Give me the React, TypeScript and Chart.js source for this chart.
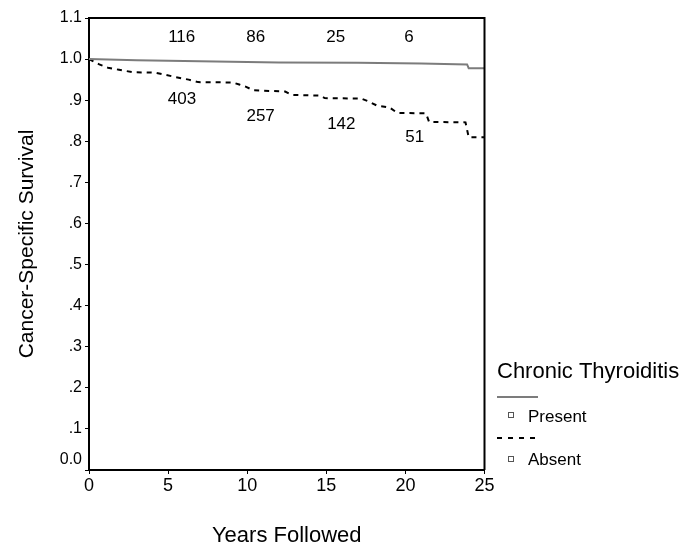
import React, { useEffect, useRef } from "react";
import { Chart, registerables } from "chart.js";

Chart.register(...registerables);

// ---- data ----
const presentYears = [0, 3, 8, 12, 17, 21, 23.9, 24.0, 25];
const presentSurvival = [1.0, 0.997, 0.994, 0.992, 0.991, 0.989, 0.987, 0.978, 0.978];

const absentYears = [0, 0.65, 1.2, 1.9, 2.8, 4.2, 4.7, 5.5, 6.3, 6.9, 9.1, 9.5, 9.9, 10.4, 12.4, 12.8, 14.6, 14.9, 17.2, 17.6, 18.2, 19.0, 19.5, 21.3, 21.5, 23.8, 24.0, 25];
const absentSurvival = [1.0, 0.987, 0.979, 0.974, 0.968, 0.967, 0.963, 0.956, 0.95, 0.944, 0.943, 0.938, 0.933, 0.924, 0.921, 0.913, 0.911, 0.905, 0.904, 0.898, 0.887, 0.882, 0.869, 0.868, 0.847, 0.846, 0.81, 0.81];

// numbers at risk
const atRiskPresent = [116, 86, 25, 6];
const atRiskPresentX = [5.86, 10.54, 15.59, 20.23];
const atRiskPresentY = [1.053, 1.053, 1.053, 1.053];
const atRiskAbsent = [403, 257, 142, 51];
const atRiskAbsentX = [5.88, 10.85, 15.95, 20.59];
const atRiskAbsentY = [0.902, 0.861, 0.842, 0.81];

const xTickValues = [0, 5, 10, 15, 20, 25];
const yTickValues = [0, 0.1, 0.2, 0.3, 0.4, 0.5, 0.6, 0.7, 0.8, 0.9, 1.0, 1.1];

const legendTitle = "Chronic Thyroiditis";
const seriesNames = ["Present", "Absent"];
const xTitle = "Years Followed";
const yTitle = "Cancer-Specific Survival";

const FONT = "'Liberation Sans', Arial, sans-serif";
const PRESENT_COLOR = "#7c7c7c";

function fmtY(v: number): string {
  if (Math.abs(v) < 1e-9) return "";
  if (v >= 0.999) return v.toFixed(1);
  return "." + Math.round(v * 10);
}

export default function App() {
  const ref = useRef<HTMLCanvasElement | null>(null);

  useEffect(() => {
    const canvas = ref.current;
    if (!canvas) return;

    const overlay = {
      id: "overlay",
      afterDraw(chart: any) {
        const ctx = chart.ctx;
        const { left, right, top, bottom } = chart.chartArea;
        const xs = chart.scales.x;
        const ys = chart.scales.y;
        ctx.save();
        // frame top and right
        ctx.strokeStyle = "#000";
        ctx.lineWidth = 2;
        ctx.beginPath();
        ctx.moveTo(left, top);
        ctx.lineTo(right, top);
        ctx.lineTo(right, bottom);
        ctx.stroke();

        // "0.0" label (slightly raised as in reference)
        ctx.fillStyle = "#000";
        ctx.font = `16px ${FONT}`;
        ctx.textAlign = "right";
        ctx.textBaseline = "middle";
        ctx.fillText("0.0", left - 7, ys.getPixelForValue(0) - 10);

        // numbers at risk
        ctx.font = `17px ${FONT}`;
        ctx.textAlign = "center";
        ctx.textBaseline = "middle";
        atRiskPresent.forEach((n, i) => {
          ctx.fillText(String(n), xs.getPixelForValue(atRiskPresentX[i]), ys.getPixelForValue(atRiskPresentY[i]));
        });
        atRiskAbsent.forEach((n, i) => {
          ctx.fillText(String(n), xs.getPixelForValue(atRiskAbsentX[i]), ys.getPixelForValue(atRiskAbsentY[i]));
        });

        // legend
        ctx.textAlign = "left";
        ctx.textBaseline = "alphabetic";
        ctx.font = `22px ${FONT}`;
        ctx.fillText(legendTitle, 497, 378);

        ctx.strokeStyle = PRESENT_COLOR;
        ctx.lineWidth = 2;
        ctx.beginPath();
        ctx.moveTo(497, 397);
        ctx.lineTo(538, 397);
        ctx.stroke();

        ctx.strokeStyle = "#000";
        ctx.setLineDash([5, 6]);
        ctx.beginPath();
        ctx.moveTo(497, 438);
        ctx.lineTo(538, 438);
        ctx.stroke();
        ctx.setLineDash([]);

        ctx.strokeStyle = "#555";
        ctx.lineWidth = 1;
        ctx.strokeRect(508.5, 412.5, 5, 5);
        ctx.strokeRect(508.5, 456.5, 5, 5);

        ctx.font = `17px ${FONT}`;
        ctx.fillStyle = "#000";
        ctx.fillText(seriesNames[0], 528, 422);
        ctx.fillText(seriesNames[1], 528, 465);
        ctx.restore();
      },
    };

    const chart = new Chart(canvas, {
      type: "line",
      data: {
        datasets: [
          {
            label: seriesNames[0],
            data: presentYears.map((x, i) => ({ x, y: presentSurvival[i] })),
            borderColor: PRESENT_COLOR,
            borderWidth: 2,
            pointRadius: 0,
            tension: 0,
            fill: false,
          },
          {
            label: seriesNames[1],
            data: absentYears.map((x, i) => ({ x, y: absentSurvival[i] })),
            borderColor: "#000",
            borderWidth: 2,
            borderDash: [5, 5],
            pointRadius: 0,
            tension: 0,
            fill: false,
          },
        ],
      },
      options: {
        responsive: false,
        animation: false,
        devicePixelRatio: 1,
        layout: { padding: { left: 0, top: 18, right: 207.5, bottom: 0 } },
        plugins: { legend: { display: false }, tooltip: { enabled: false } },
        scales: {
          x: {
            type: "linear",
            min: 0,
            max: 25,
            afterFit: (s: any) => {
              s.height = 77;
            },
            afterBuildTicks: (s: any) => {
              s.ticks = xTickValues.map((v) => ({ value: v }));
            },
            ticks: {
              color: "#000",
              font: { size: 18, family: FONT },
              padding: 1,
              maxRotation: 0,
              autoSkip: false,
              callback: (v: any) => String(v),
            },
            grid: { drawOnChartArea: false, drawTicks: true, tickLength: 4, tickColor: "#000", tickWidth: 1 },
            border: { display: true, color: "#000", width: 2 },
            title: {
              display: true,
              text: xTitle,
              color: "#000",
              font: { size: 22, family: FONT, lineHeight: 1.0 },
              padding: { top: 0, bottom: 0 },
            },
          },
          y: {
            type: "linear",
            min: 0,
            max: 1.1,
            afterFit: (s: any) => {
              s.width = 89;
            },
            afterBuildTicks: (s: any) => {
              s.ticks = yTickValues.map((v) => ({ value: v }));
            },
            ticks: {
              color: "#000",
              font: { size: 16, family: FONT },
              padding: 3,
              autoSkip: false,
              callback: (v: any) => fmtY(Number(v)),
            },
            grid: { drawOnChartArea: false, drawTicks: true, tickLength: 4, tickColor: "#000", tickWidth: 1 },
            border: { display: true, color: "#000", width: 2 },
            title: {
              display: true,
              text: yTitle,
              color: "#000",
              font: { size: 21, family: FONT },
              padding: { top: 15, bottom: 0 },
            },
          },
        },
      },
      plugins: [overlay],
    } as any);

    return () => chart.destroy();
  }, []);

  return (
    <div style={{ position: "absolute", left: 0, top: 0, width: 692, height: 547, background: "#fff" }}>
      <canvas ref={ref} width={692} height={547} style={{ display: "block" }} />
    </div>
  );
}
